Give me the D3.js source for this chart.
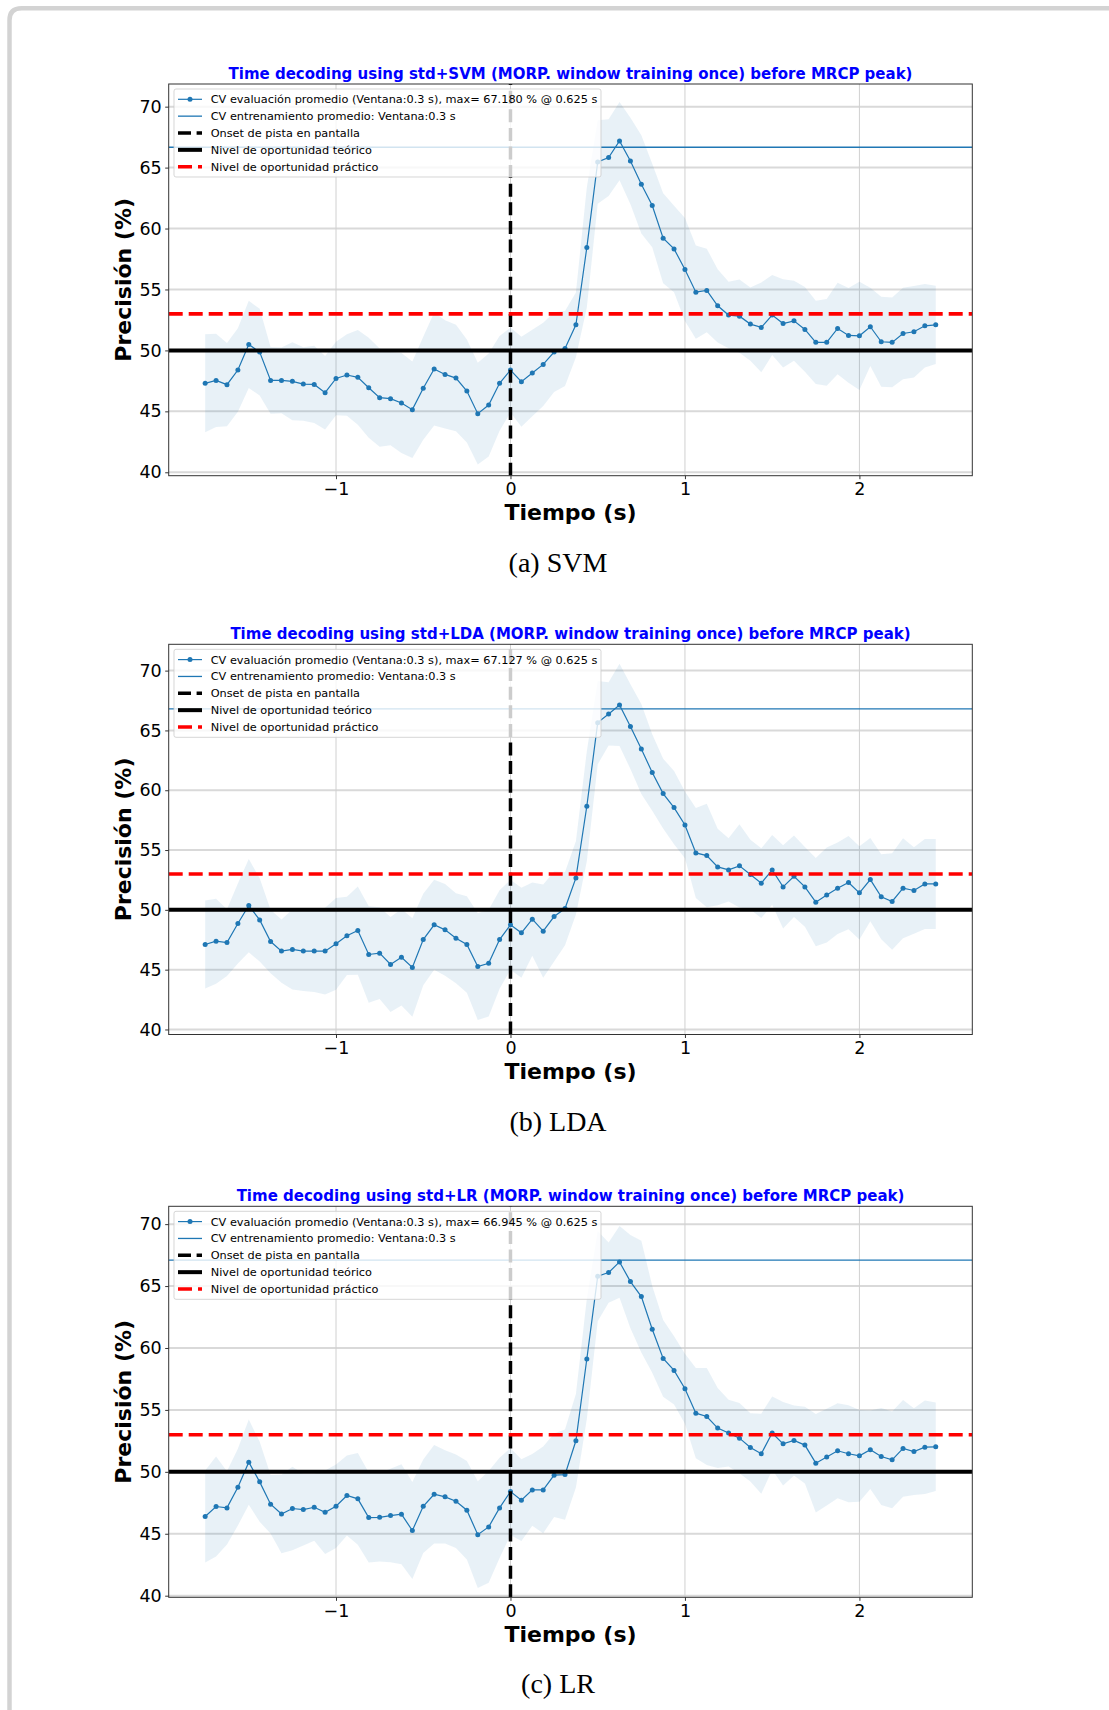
<!DOCTYPE html>
<html>
<head>
<meta charset="utf-8">
<script src="https://cdn.jsdelivr.net/npm/d3@7"></script>
<style>
    body { margin: 0; background: #fff; }
    svg { display: block; font-family: "DejaVu Sans", sans-serif; }
</style>
</head>
<body>
<div id="wrapper"></div>
<script>
// sample times (s), every 62.5 ms
const times = [-1.75, -1.6875, -1.625, -1.5625, -1.5, -1.4375, -1.375, -1.3125, -1.25, -1.1875,
    -1.125, -1.0625, -1, -0.9375, -0.875, -0.8125, -0.75, -0.6875, -0.625, -0.5625,
    -0.5, -0.4375, -0.375, -0.3125, -0.25, -0.1875, -0.125, -0.0625, 0, 0.0625,
    0.125, 0.1875, 0.25, 0.3125, 0.375, 0.4375, 0.5, 0.5625, 0.625, 0.6875,
    0.75, 0.8125, 0.875, 0.9375, 1, 1.0625, 1.125, 1.1875, 1.25, 1.3125,
    1.375, 1.4375, 1.5, 1.5625, 1.625, 1.6875, 1.75, 1.8125, 1.875, 1.9375,
    2, 2.0625, 2.125, 2.1875, 2.25, 2.3125, 2.375, 2.4375];

const svmMean = [47.30, 47.54, 47.19, 48.39, 50.49, 49.86, 47.54, 47.54, 47.46, 47.24,
    47.21, 46.53, 47.70, 47.98, 47.79, 46.94, 46.12, 46.04, 45.68, 45.14,
    46.89, 48.47, 48.03, 47.73, 46.67, 44.81, 45.52, 47.30, 48.39, 47.43,
    48.14, 48.85, 49.86, 50.16, 52.10, 58.44, 65.46, 65.82, 67.18, 65.55,
    63.63, 61.89, 59.21, 58.33, 56.64, 54.78, 54.92, 53.66, 52.90, 52.81,
    52.16, 51.89, 52.90, 52.21, 52.43, 51.72, 50.66, 50.66, 51.80, 51.23,
    51.20, 51.94, 50.71, 50.66, 51.39, 51.53, 52.02, 52.10];
const svmStd = [4.02, 3.83, 3.42, 3.42, 3.58, 3.55, 2.73, 2.70, 3.20, 3.01,
    3.17, 3.01, 3.01, 3.35, 3.89, 4.10, 4.03, 3.83, 4.10, 3.96,
    4.23, 4.64, 4.44, 4.37, 4.23, 4.17, 4.23, 3.89, 3.48, 3.69,
    3.55, 3.42, 3.28, 3.07, 2.66, 4.92, 3.42, 3.14, 3.21, 3.55,
    4.03, 3.42, 3.69, 3.55, 4.23, 3.83, 3.42, 3.01, 2.73, 3.01,
    3.01, 3.69, 3.28, 3.62, 3.28, 3.48, 3.42, 3.55, 3.76, 3.89,
    4.44, 3.21, 3.69, 3.69, 3.76, 3.76, 3.42, 3.21];

const ldaMean = [47.10, 47.38, 47.27, 48.86, 50.36, 49.16, 47.35, 46.55, 46.69, 46.55,
    46.55, 46.55, 47.16, 47.83, 48.27, 46.27, 46.38, 45.43, 46.04, 45.18,
    47.52, 48.75, 48.33, 47.63, 47.10, 45.26, 45.54, 47.52, 48.75, 48.08,
    49.22, 48.22, 49.44, 50.11, 52.67, 58.66, 65.65, 66.38, 67.13, 65.32,
    63.45, 61.48, 59.72, 58.55, 57.10, 54.76, 54.54, 53.59, 53.34, 53.68,
    52.95, 52.23, 53.34, 51.92, 52.81, 51.92, 50.64, 51.25, 51.81, 52.28,
    51.42, 52.53, 51.09, 50.70, 51.81, 51.62, 52.17, 52.17];
const ldaStd = [3.68, 3.55, 2.79, 3.34, 3.90, 3.48, 2.65, 2.65, 3.34, 3.34,
    3.41, 3.62, 3.83, 3.27, 3.69, 4.04, 3.83, 3.97, 4.04, 4.11,
    3.83, 3.76, 3.83, 3.76, 4.04, 4.46, 4.46, 4.11, 3.76, 3.76,
    3.06, 3.90, 3.76, 3.06, 3.06, 4.60, 3.48, 2.65, 3.44, 3.55,
    3.76, 3.20, 2.92, 3.06, 2.79, 3.76, 4.32, 3.20, 2.65, 3.48,
    2.92, 2.92, 2.92, 3.48, 3.41, 3.34, 3.69, 3.97, 3.83, 3.90,
    3.90, 3.48, 3.55, 4.04, 4.18, 3.62, 3.76, 3.76];

const lrMean = [46.39, 47.20, 47.09, 48.76, 50.78, 49.19, 47.39, 46.60, 47.04, 46.95,
    47.14, 46.74, 47.22, 48.09, 47.82, 46.31, 46.33, 46.47, 46.58, 45.26,
    47.22, 48.19, 47.98, 47.63, 46.90, 44.93, 45.55, 47.09, 48.41, 47.71,
    48.54, 48.54, 49.73, 49.78, 52.51, 59.11, 65.80, 66.09, 66.95, 65.36,
    64.15, 61.51, 59.16, 58.19, 56.71, 54.74, 54.47, 53.53, 53.13, 52.72,
    51.97, 51.46, 53.13, 52.26, 52.53, 52.16, 50.70, 51.19, 51.70, 51.46,
    51.29, 51.78, 51.24, 50.97, 51.89, 51.64, 51.99, 52.02];
const lrStd = [3.71, 4.04, 2.96, 3.10, 3.44, 3.23, 2.36, 3.17, 3.37, 2.90,
    2.70, 3.37, 3.37, 3.23, 3.71, 3.64, 3.57, 3.77, 4.04, 3.91,
    3.77, 3.98, 3.77, 3.77, 3.98, 4.31, 4.51, 4.04, 3.50, 3.30,
    2.90, 3.50, 3.37, 3.64, 3.77, 4.85, 3.64, 2.43, 2.90, 3.77,
    4.51, 3.50, 3.10, 2.76, 2.83, 3.64, 3.91, 3.23, 2.70, 2.83,
    2.76, 3.23, 2.96, 3.37, 2.83, 3.10, 3.98, 3.91, 3.84, 3.91,
    3.71, 3.17, 3.91, 3.91, 3.91, 3.50, 3.77, 3.57];

const models = ["SVM", "LDA", "LR"];
const captions = ["(a) SVM", "(b) LDA", "(c) LR"];
const maxLabels = ["67.180", "67.127", "66.945"];
const trainLevels = [66.67, 66.80, 67.09];
const peakTime = "0.625";
const yTicks = [40, 45, 50, 55, 60, 65, 70];
const xTicks = [-1, 0, 1, 2];
const theoLevel = 50;
const practLevel = 53;
const onsetTime = 0;

const blue = "#1f77b4";

function drawPanel(svg, p) {
    const left = 168.7, right = 972.3;
    const top = p.top, bottom = p.top + p.height;

    const xScaler = d3.scaleLinear()
        .domain([-1.959, 2.647])
        .range([left, right]);
    const yScaler = d3.scaleLinear()
        .domain(p.yDomain)
        .range([bottom, top]);

    const g = svg.append("g");
    const clipId = "clip" + p.i;
    g.append("clipPath").attr("id", clipId)
        .append("rect")
        .attr("x", left).attr("y", top)
        .attr("width", right - left).attr("height", p.height);

    // grid
    g.append("g").selectAll("line")
        .data(yTicks)
        .join("line")
        .attr("x1", left).attr("x2", right)
        .attr("y1", d => yScaler(d)).attr("y2", d => yScaler(d))
        .attr("stroke", "#d9d9d9")
        .attr("stroke-width", 2);
    g.append("g").selectAll("line")
        .data(xTicks)
        .join("line")
        .attr("x1", d => xScaler(d)).attr("x2", d => xScaler(d))
        .attr("y1", top).attr("y2", bottom)
        .attr("stroke", "#d0d0d0")
        .attr("stroke-width", 1);

    const plot = g.append("g").attr("clip-path", `url(#${clipId})`);

    const rows = times.map((t, k) => ({ t: t, m: p.mean[k], s: p.std[k] }));

    // +- std band
    plot.append("path")
        .datum(rows)
        .attr("d", d3.area()
            .x(d => xScaler(d.t))
            .y0(d => yScaler(d.m - d.s))
            .y1(d => yScaler(d.m + d.s)))
        .attr("fill", blue)
        .attr("fill-opacity", 0.1);

    // mean evaluation curve
    plot.append("path")
        .datum(rows)
        .attr("d", d3.line().x(d => xScaler(d.t)).y(d => yScaler(d.m)))
        .attr("fill", "none")
        .attr("stroke", blue)
        .attr("stroke-width", 1.2);
    plot.append("g").selectAll("circle")
        .data(rows)
        .join("circle")
        .attr("cx", d => xScaler(d.t))
        .attr("cy", d => yScaler(d.m))
        .attr("r", 2.5)
        .attr("fill", blue);

    // training level
    plot.append("line")
        .attr("x1", left).attr("x2", right)
        .attr("y1", yScaler(p.train)).attr("y2", yScaler(p.train))
        .attr("stroke", blue)
        .attr("stroke-width", 1.3);

    // onset
    plot.append("line")
        .attr("x1", xScaler(onsetTime)).attr("x2", xScaler(onsetTime))
        .attr("y1", bottom).attr("y2", top)
        .attr("stroke", "black")
        .attr("stroke-width", 3.5)
        .attr("stroke-dasharray", "13,5.6");

    // chance levels
    plot.append("line")
        .attr("x1", left).attr("x2", right)
        .attr("y1", yScaler(theoLevel)).attr("y2", yScaler(theoLevel))
        .attr("stroke", "black")
        .attr("stroke-width", 4);
    plot.append("line")
        .attr("x1", left).attr("x2", right)
        .attr("y1", yScaler(practLevel)).attr("y2", yScaler(practLevel))
        .attr("stroke", "red")
        .attr("stroke-width", 3.6)
        .attr("stroke-dasharray", "14,6");

    // spines
    g.append("rect")
        .attr("x", left).attr("y", top)
        .attr("width", right - left).attr("height", p.height)
        .attr("fill", "none")
        .attr("stroke", "#333")
        .attr("stroke-width", 1);

    // axes
    const yAxis = g.append("g")
        .attr("transform", `translate(${left},0)`)
        .call(d3.axisLeft(yScaler).tickValues(yTicks).tickSize(3.5).tickPadding(3.5));
    const xAxis = g.append("g")
        .attr("transform", `translate(0,${bottom})`)
        .call(d3.axisBottom(xScaler).tickValues(xTicks).tickSize(3.5).tickPadding(3.5)
            .tickFormat(d3.format("d")));
    [yAxis, xAxis].forEach(a => {
        a.select(".domain").remove();
        a.selectAll("text")
            .attr("font-size", "17.5px")
            .attr("font-family", "DejaVu Sans")
            .attr("fill", "black");
        a.selectAll("line").attr("stroke", "#333");
    });

    // titles
    g.append("text")
        .attr("x", (left + right) / 2)
        .attr("y", top - 5)
        .attr("text-anchor", "middle")
        .attr("font-size", "15px")
        .attr("font-weight", "bold")
        .attr("fill", "#0000ff")
        .text(`Time decoding using std+${p.model} (MORP. window training once) before MRCP peak)`);

    g.append("text")
        .attr("x", (left + right) / 2)
        .attr("y", bottom + 44.5)
        .attr("text-anchor", "middle")
        .attr("font-size", "22px")
        .attr("font-weight", "bold")
        .text("Tiempo (s)");

    g.append("text")
        .attr("transform", `translate(131,${(top + bottom) / 2}) rotate(-90)`)
        .attr("text-anchor", "middle")
        .attr("font-size", "22px")
        .attr("font-weight", "bold")
        .text("Precisión (%)");

    g.append("text")
        .attr("x", 558)
        .attr("y", bottom + 96)
        .attr("text-anchor", "middle")
        .attr("font-size", "28px")
        .attr("font-family", "Liberation Serif, serif")
        .text(p.caption);

    // legend
    const legendItems = [
        { label: `CV evaluación promedio (Ventana:0.3 s), max= ${p.maxLabel} % @ ${peakTime} s`, color: blue, width: 1.2, dash: null, marker: true },
        { label: "CV entrenamiento promedio: Ventana:0.3 s", color: blue, width: 1.3, dash: null, marker: false },
        { label: "Onset de pista en pantalla", color: "black", width: 3.5, dash: "13,5.6", marker: false },
        { label: "Nivel de oportunidad teórico", color: "black", width: 4, dash: null, marker: false },
        { label: "Nivel de oportunidad práctico", color: "red", width: 3.6, dash: "14,6", marker: false },
    ];
    const legend = g.append("g");
    legend.append("rect")
        .attr("x", 174).attr("y", top + 5)
        .attr("width", 427).attr("height", 88)
        .attr("rx", 2)
        .attr("fill", "white")
        .attr("fill-opacity", 0.8)
        .attr("stroke", "#cccccc")
        .attr("stroke-opacity", 0.8);
    const rowsG = legend.selectAll("g.item")
        .data(legendItems)
        .join("g")
        .attr("transform", (d, k) => `translate(0,${top + 15.3 + k * 16.85})`);
    rowsG.append("line")
        .attr("x1", 178).attr("x2", 202)
        .attr("stroke", d => d.color)
        .attr("stroke-width", d => d.width)
        .attr("stroke-dasharray", d => d.dash);
    rowsG.filter(d => d.marker).append("circle")
        .attr("cx", 190).attr("r", 2.5).attr("fill", blue);
    rowsG.append("text")
        .attr("x", 210.7)
        .attr("dy", "0.35em")
        .attr("font-size", "11.3px")
        .text(d => d.label);
}

const svg = d3.select("#wrapper")
    .append("svg")
    .attr("width", 1109)
    .attr("height", 1710);

// page frame
svg.append("path")
    .attr("d", "M9.5,1710 L9.5,20.3 Q9.5,8.3 21.5,8.3 L1109,8.3")
    .attr("fill", "none")
    .attr("stroke", "#d3d3d3")
    .attr("stroke-width", 4.5);

const panels = [
    { i: 0, model: models[0], caption: captions[0], maxLabel: maxLabels[0], train: trainLevels[0],
      mean: svmMean, std: svmStd, top: 84, height: 391.7, yDomain: [39.72, 71.86] },
    { i: 1, model: models[1], caption: captions[1], maxLabel: maxLabels[1], train: trainLevels[1],
      mean: ldaMean, std: ldaStd, top: 644.3, height: 390.2, yDomain: [39.58, 72.2] },
    { i: 2, model: models[2], caption: captions[2], maxLabel: maxLabels[2], train: trainLevels[2],
      mean: lrMean, std: lrStd, top: 1206.3, height: 391, yDomain: [39.87, 71.44] },
];
panels.forEach(p => drawPanel(svg, p));
</script>
</body>
</html>
